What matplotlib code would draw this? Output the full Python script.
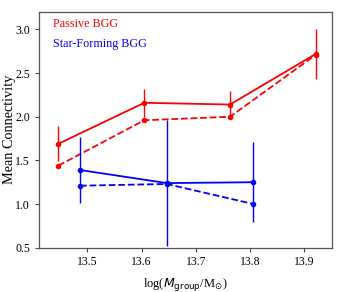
import matplotlib
matplotlib.use("Agg")
import matplotlib.pyplot as plt

plt.rcParams['font.family'] = ['Liberation Serif', 'DejaVu Serif']
plt.rcParams['mathtext.fontset'] = 'dejavusans'

mass_passive = [13.4465, 13.605, 13.763, 13.921]
passive_mean = [1.69, 2.16, 2.14, 2.72]
passive_err = [0.20, 0.16, 0.16, 0.29]
passive_alt = [1.44, 1.96, 2.00, 2.71]

mass_sf = [13.4865, 13.6465, 13.806]
sf_mean = [1.39, 1.24, 1.25]
sf_err = [0.38, 0.72, 0.46]
sf_alt = [1.21, 1.23, 1.00]

xticks = [13.5, 13.6, 13.7, 13.8, 13.9]
yticks = [0.5, 1.0, 1.5, 2.0, 2.5, 3.0]

fig = plt.figure(figsize=(3.42, 2.92), dpi=100)
ax = fig.add_axes([38.5/342, 1 - 247.7/292, (331.5-38.5)/342, (247.7-12)/292])

red = '#ff0000'
blue = '#0000ff'
ax.errorbar(mass_passive, passive_mean, yerr=passive_err, color=red, lw=1.3,
            marker='o', ms=3, elinewidth=1.0, capsize=0)
ax.plot(mass_passive, passive_alt, color=red, lw=1.3, ls='--', marker='o', ms=3)
ax.errorbar(mass_sf, sf_mean, yerr=sf_err, color=blue, lw=1.3,
            marker='o', ms=3, elinewidth=1.0, capsize=0)
ax.plot(mass_sf, sf_alt, color=blue, lw=1.3, ls='--', marker='o', ms=3)

ax.set_xlim(13.41, 13.95)
ax.set_ylim(0.5, 3.2)
ax.set_xticks(xticks)
ax.set_yticks(yticks)
ax.set_xticklabels([f"{t:.1f}" for t in xticks])
ax.set_yticklabels([f"{t:.1f}" for t in yticks])
ax.tick_params(labelsize=8.5, direction='out', length=3, width=0.8, color='#444444', pad=3)
for s in ax.spines.values():
    s.set_color('#555555')
    s.set_linewidth(0.9)

ax.set_xlabel(r'log($M_{\mathrm{group}}$/M$_{\odot}$)', fontsize=9, labelpad=6)
ax.set_ylabel('Mean Connectivity', fontsize=10.3)
ax.yaxis.set_label_coords(-0.077, 0.5)

fig.text(53/342, 1 - 27/292, 'Passive BGG', color=red, fontsize=8.7)
fig.text(53/342, 1 - 47/292, 'Star-Forming BGG', color=blue, fontsize=8.7)

fig.savefig('out.png', dpi=100)
